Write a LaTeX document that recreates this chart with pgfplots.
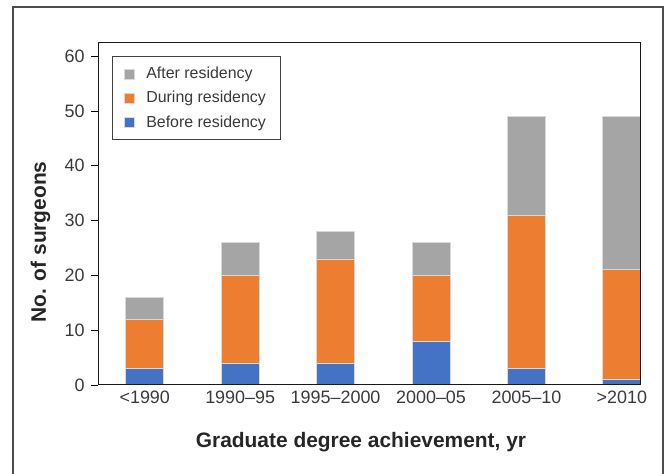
\documentclass[border=0pt]{standalone}
\usepackage{pgfplots}
\pgfplotsset{compat=1.18}
\usepackage{fontspec}
\setmainfont{Liberation Sans}
\definecolor{cgray}{HTML}{A5A5A5}
\definecolor{corange}{HTML}{ED7D31}
\definecolor{cblue}{HTML}{4472C4}
\definecolor{txt}{HTML}{3A3A3A}
\begin{document}
\begin{tikzpicture}
\begin{axis}[
  at={(0pt,0pt)}, anchor=south west,
  scale only axis, width=542bp, height=342bp,
  ybar stacked, bar width=38bp,
  xmin=-0.49, xmax=5.19, ymin=0, ymax=62.4,
  xtick={0,1,2,3,4,5},
  xticklabels={{<1990},{1990–95},{1995–2000},{2000–05},{2005–10},{>2010}},
  ytick={0,10,20,30,40,50,60},
  ytick pos=left,
  tick align=outside, major tick length=7bp,
  xtick style={draw=none},
  ytick style={black, line width=0.8bp},
  tick label style={font=\fontsize{18}{20}\selectfont, text=txt},
  xticklabel style={yshift=5bp},
  yticklabel style={xshift=-3bp},
  /pgf/number format/assume math mode=true,
  axis line style={black!90, line width=1bp},
  axis on top,
  reverse legend,
  legend cell align=left,
  legend image code/.code={\fill[#1] (0bp,-5bp) rectangle (10bp,5bp);},
  legend style={at={(axis description cs:0.026,0.962)}, anchor=north west,
    draw=black!75, line width=0.8bp, font=\fontsize{16}{19}\selectfont, text=txt,
    inner xsep=12bp, inner ysep=9bp, row sep=7bp, nodes={inner sep=2bp},
    /tikz/every odd column/.append style={column sep=9bp}},
  every axis plot/.append style={draw=black!15, line width=0.8bp},
]
\addplot[fill=cblue] coordinates {(0,3) (1,4) (2,4) (3,8) (4,3) (5,1)};
\addlegendentry{Before residency}
\addplot[fill=corange] coordinates {(0,9) (1,16) (2,19) (3,12) (4,28) (5,20)};
\addlegendentry{During residency}
\addplot[fill=cgray] coordinates {(0,4) (1,6) (2,5) (3,6) (4,18) (5,28)};
\addlegendentry{After residency}
\draw[black, line width=2bp] (rel axis cs:0,0) -- (rel axis cs:1,0);
\end{axis}
\begin{scope}[x=1bp,y=1bp]
\draw[black!70, line width=1.2bp] (-85,-100) -- (-85,378) -- (565,378) -- (565,-100);
\node[font=\bfseries\fontsize{21}{24}\selectfont, text=black!85] at (263,-57.5) {Graduate degree achievement, yr};
\node[font=\bfseries\fontsize{21}{24}\selectfont, text=black!85, rotate=90] at (-57.5,143) {No. of surgeons};
\pgfresetboundingbox
\useasboundingbox (-98,-89) rectangle (569,385);
\end{scope}
\end{tikzpicture}
\end{document}
